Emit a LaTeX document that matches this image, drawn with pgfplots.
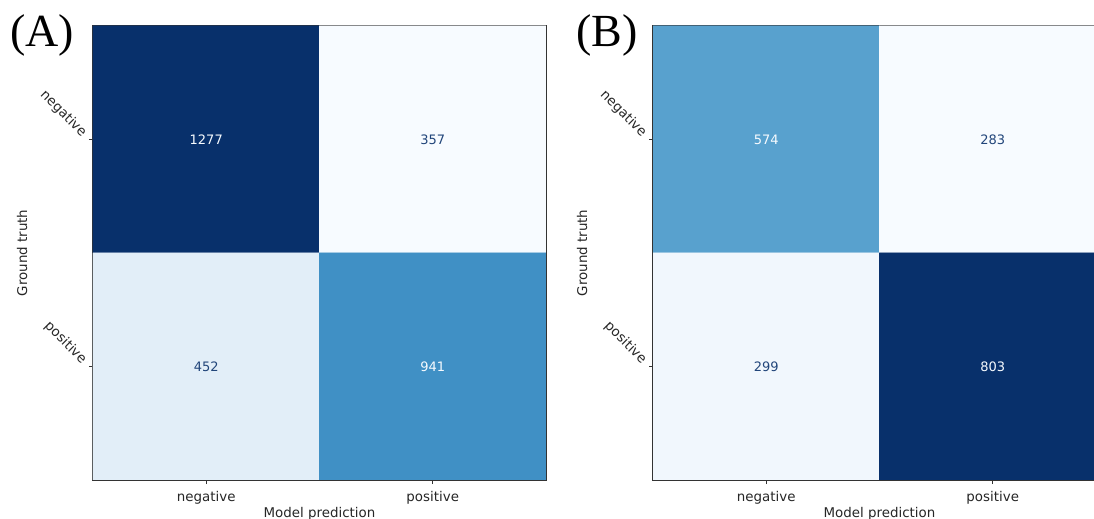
\documentclass[border=0pt]{standalone}
\usepackage{pgfplots}
\pgfplotsset{compat=1.18}
\usepackage{fontspec}
\setmainfont{DejaVu Sans}
\newfontfamily\serifA{Liberation Serif}
\definecolor{cmlow}{RGB}{247,251,255}
\definecolor{cmhigh}{RGB}{8,48,107}
\pgfplotsset{
 cm/.style={
  scale only axis, width=226.5pt, height=227pt,
  xmin=-0.5,xmax=1.5,ymin=-0.5,ymax=1.5, y dir=reverse,
  xtick={0,1}, ytick={0,1},
  xticklabels={negative,positive}, yticklabels={negative,positive},
  tick align=outside, major tick length=2pt,
  tick style={black!80, line width=0.5pt},
  xtick pos=bottom, ytick pos=left,
  axis line style={black!80, line width=0.6pt},
  ticklabel style={font=\fontsize{6.7}{8}\selectfont, text=black!85},
  yticklabel style={rotate=-45, anchor=east},
  colormap={blues}{rgb255=(247,251,255) rgb255=(222,235,247) rgb255=(198,219,239) rgb255=(158,202,225) rgb255=(107,174,214) rgb255=(66,146,198) rgb255=(33,113,181) rgb255=(8,81,156) rgb255=(8,48,107)},
  xlabel={Model prediction}, ylabel={Ground truth},
  label style={font=\fontsize{6.7}{8}\selectfont, text=black!85},
  xlabel style={at={(axis description cs:0.5,-0.0749)}, anchor=center},
  ylabel style={at={(axis description cs:-0.1567,0.5)}, anchor=center},
  nodes near coords style={font=\fontsize{6.5}{8}\selectfont, anchor=center},
 }
}
\begin{document}
\begin{tikzpicture}
\path[use as bounding box] (0,0) rectangle (547pt,259.5pt);
\clip (0,0) rectangle (547pt,259.5pt);
\begin{axis}[cm, at={(46.5pt,19.5pt)}, anchor=south west]
\addplot[matrix plot*, mesh/cols=2, point meta=explicit, point meta min=357, point meta max=1277] table[meta=c] {
x y c
0 0 1277
1 0 357
0 1 452
1 1 941
};
\addplot[draw=none, mark=none, nodes near coords, point meta=explicit symbolic, nodes near coords style={text=cmlow}] coordinates {(0,0)[1277] (1,1)[941]};
\addplot[draw=none, mark=none, nodes near coords, point meta=explicit symbolic, nodes near coords style={text=cmhigh!90}] coordinates {(1,0)[357] (0,1)[452]};
\end{axis}
\begin{axis}[cm, at={(326.5pt,19.5pt)}, anchor=south west]
\addplot[matrix plot*, mesh/cols=2, point meta=explicit, point meta min=283, point meta max=803] table[meta=c] {
x y c
0 0 574
1 0 283
0 1 299
1 1 803
};
\addplot[draw=none, mark=none, nodes near coords, point meta=explicit symbolic, nodes near coords style={text=cmlow}] coordinates {(0,0)[574] (1,1)[803]};
\addplot[draw=none, mark=none, nodes near coords, point meta=explicit symbolic, nodes near coords style={text=cmhigh!90}] coordinates {(1,0)[283] (0,1)[299]};
\end{axis}
\node[font=\serifA\fontsize{23}{23}\selectfont, anchor=base] at (21pt,236pt) {(A)};
\node[font=\serifA\fontsize{23}{23}\selectfont, anchor=base] at (303.5pt,236pt) {(B)};
\end{tikzpicture}
\end{document}
